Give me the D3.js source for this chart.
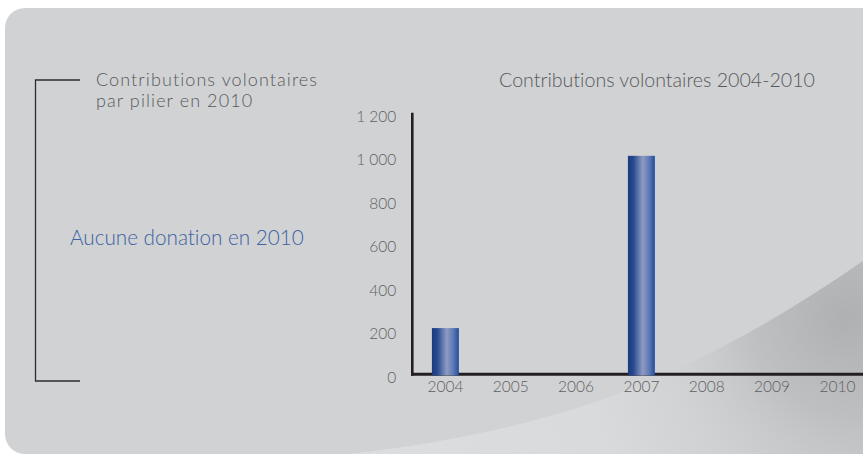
<!DOCTYPE html>
<html><head><meta charset="utf-8">
<script src="https://cdn.jsdelivr.net/npm/d3@7"></script>
<style>html,body{margin:0;padding:0;background:#fff;}svg{display:block;} text{font-variant-ligatures:none;font-feature-settings:"liga" 0;}</style>
</head><body>
<script>
const years = ["2004","2005","2006","2007","2008","2009","2010"];
const values = [218, 0, 0, 1010, 0, 0, 0];
const yTicks = [0, 200, 400, 600, 800, 1000, 1200];
const chartTitle = "Contributions volontaires 2004-2010";
const sideTitle = ["Contributions volontaires", "par pilier en 2010"];
const sideNote = "Aucune donation en 2010";

const W = 863, H = 455;
const font = "Lato, 'Liberation Sans', sans-serif";
const wt = 300;
const svg = d3.select("body").append("svg").attr("width", W).attr("height", H);
const defs = svg.append("defs");

function measure(str, size) {
  const t = svg.append("text").attr("font-family", font).attr("font-weight", wt)
    .attr("font-size", size).text(str);
  const w = t.node().getComputedTextLength();
  t.remove();
  return w;
}
function fitSize(str, width) { return 100 * width / measure(str, 100); }
// fixed size, letter-spacing fills the target width
function spacingFor(str, size, width) { return (width - measure(str, size)) / (str.length - 1); }

const light = defs.append("linearGradient").attr("id","swoosh")
  .attr("gradientUnits","userSpaceOnUse").attr("x1",350).attr("y1",455).attr("x2",870).attr("y2",300);
light.append("stop").attr("offset","0").attr("stop-color","#dcdddf");
light.append("stop").attr("offset","0.45").attr("stop-color","#d9dadc");
light.append("stop").attr("offset","1").attr("stop-color","#c0c1c3");

const dk = defs.append("radialGradient").attr("id","dark")
  .attr("gradientUnits","userSpaceOnUse").attr("cx",845).attr("cy",318).attr("r",190);
dk.append("stop").attr("offset","0").attr("stop-color","#aeafb1").attr("stop-opacity",0.95);
dk.append("stop").attr("offset","0.5").attr("stop-color","#b8b9bb").attr("stop-opacity",0.6);
dk.append("stop").attr("offset","1").attr("stop-color","#d0d1d3").attr("stop-opacity",0);

const barG = defs.append("linearGradient").attr("id","bar").attr("x1","0").attr("y1","0").attr("x2","1").attr("y2","0");
[["0","#1c3b7d"],["0.2","#27498f"],["0.55","#8e9bc4"],["0.8","#5d77b2"],["1","#1f4e9e"]].forEach(s=>
  barG.append("stop").attr("offset",s[0]).attr("stop-color",s[1]));

defs.append("clipPath").attr("id","card").append("rect")
  .attr("x",5).attr("y",8).attr("width",880).attr("height",446).attr("rx",20);

const swooshD = "M330,456 C450,444 560,420 650,381 C730,347 800,305 870,256 L870,456 Z";
defs.append("clipPath").attr("id","swclip").append("path").attr("d", swooshD);

const card = svg.append("g").attr("clip-path","url(#card)");
card.append("rect").attr("x",0).attr("y",0).attr("width",W+20).attr("height",H).attr("fill","#d1d2d4");
card.append("path").attr("d", swooshD).attr("fill","url(#swoosh)");
card.append("g").attr("clip-path","url(#swclip)").append("rect")
  .attr("x",500).attr("y",150).attr("width",400).attr("height",320).attr("fill","url(#dark)");

// bracket
svg.append("path").attr("d","M80,80 H35.5 V381 H80")
  .attr("fill","none").attr("stroke","#2d2d2f").attr("stroke-width",1.3);

const sideSize = 18;
const sideLS = spacingFor(sideTitle[0], sideSize, 221);
svg.append("text").attr("x",96).attr("y",86).text(sideTitle[0])
  .attr("font-family",font).attr("font-weight",wt).attr("font-size",sideSize)
  .attr("letter-spacing",sideLS).attr("fill","#58595b");
svg.append("text").attr("x",96).attr("y",107).text(sideTitle[1])
  .attr("font-family",font).attr("font-weight",wt).attr("font-size",sideSize)
  .attr("letter-spacing",sideLS).attr("fill","#58595b");
svg.append("text").attr("x",70).attr("y",245).text(sideNote)
  .attr("font-family",font).attr("font-weight",wt).attr("font-size",fitSize(sideNote, 234)).attr("fill","#3d62a3");
svg.append("text").attr("x",657).attr("y",87).attr("text-anchor","middle").text(chartTitle)
  .attr("font-family",font).attr("font-weight",wt).attr("font-size",fitSize(chartTitle, 316)).attr("fill","#58595b");

// scales
const x = d3.scaleBand().domain(years).range([412.3, 870.5]).paddingInner(0.587).paddingOuter(0.3);
const y = d3.scaleLinear().domain([0,1200]).range([375.5, 114.5]);
const fmt = d => d3.format(",")(d).replace(/,/g, " ");
const tickSize = fitSize("2004", 36);

// y axis
const yAxis = svg.append("g").attr("transform","translate(412.3,0)")
  .call(d3.axisLeft(y).tickValues(yTicks).tickSize(0).tickPadding(16).tickFormat(fmt));
yAxis.select(".domain").remove();
yAxis.selectAll("text").attr("font-family",font).attr("font-weight",wt).attr("font-size",tickSize)
  .attr("fill","#5e5f61").attr("dy","0.45em");
svg.append("line").attr("x1",412.3).attr("x2",412.3).attr("y1",112.7).attr("y2",375.7)
  .attr("stroke","#231f20").attr("stroke-width",2.6);

// x axis
const xAxis = svg.append("g").attr("transform","translate(0,374.3)")
  .call(d3.axisBottom(x).tickSize(0).tickPadding(7));
xAxis.select(".domain").remove();
xAxis.selectAll("text").attr("font-family",font).attr("font-weight",wt).attr("font-size",tickSize).attr("fill","#5e5f61");
svg.append("line").attr("x1",411).attr("x2",W).attr("y1",374.2).attr("y2",374.2)
  .attr("stroke","#231f20").attr("stroke-width",3);

// bars
svg.append("g").selectAll("rect").data(years.map((d,i)=>({year:d,v:values[i]}))).join("rect")
  .attr("x", d=>x(d.year)).attr("width", x.bandwidth())
  .attr("y", d=>y(d.v)).attr("height", d=>Math.max(0, y(0)-y(d.v)))
  .attr("fill","url(#bar)");
</script>
</body></html>
